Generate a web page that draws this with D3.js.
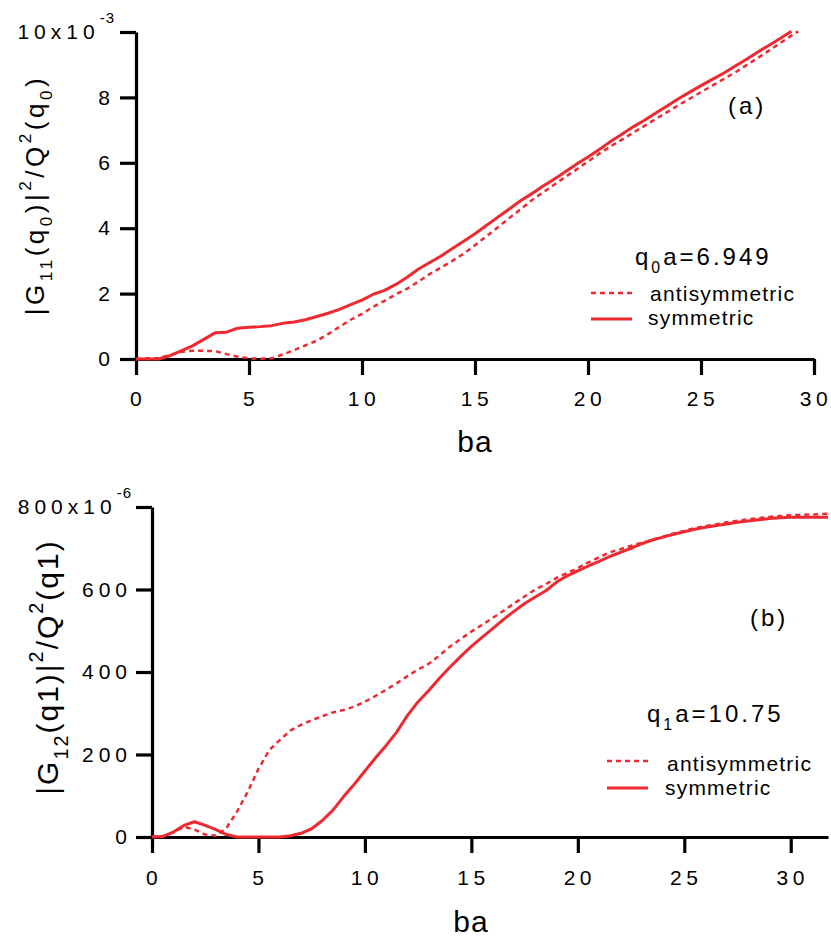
<!DOCTYPE html>
<html>
<head>
<meta charset="utf-8">
<script src="https://cdn.jsdelivr.net/npm/d3@7"></script>
<style>
	body{margin:0;background:#fff;}
	svg text{font-family:"Liberation Sans",Arial,Helvetica,sans-serif;fill:#000;}
</style>
</head>
<body>
<svg id="chart" width="831" height="938"></svg>
<script>
	// panel (a): |G11(q0)|^2/Q^2(q0), units of 1e-3
	const baTopSym = [0,0.5,1,1.5,2,2.5,3,3.5,4,4.5,5,5.5,6,6.5,7,7.5,8,8.5,9,9.5,10,10.5,11,11.5,12,12.5,13,13.5,14,14.5,15,15.5,16,16.5,17,17.5,18,18.5,19,19.5,20,20.5,21,21.5,22,22.5,23,23.5,24,24.5,25,25.5,26,26.5,27,27.5,28,28.5,29];
	const symTop = [0,0,0,0.1,0.25,0.4,0.6,0.8,0.82,0.94,0.97,0.99,1.02,1.09,1.13,1.2,1.3,1.4,1.52,1.66,1.8,1.98,2.1,2.28,2.5,2.75,2.95,3.15,3.38,3.6,3.83,4.08,4.33,4.58,4.83,5.05,5.28,5.5,5.73,5.96,6.18,6.41,6.65,6.87,7.1,7.3,7.52,7.74,7.96,8.16,8.36,8.55,8.74,8.95,9.16,9.38,9.59,9.8,10.02];
	const baTopAnti = [0,0.5,1,1.5,2,2.5,3,3.5,4,4.5,5,5.5,6,6.5,7,7.5,8,8.5,9,9.5,10,10.5,11,11.5,12,12.5,13,13.5,14,14.5,15,15.5,16,16.5,17,17.5,18,18.5,19,19.5,20,20.5,21,21.5,22,22.5,23,23.5,24,24.5,25,25.5,26,26.5,27,27.5,28,28.5,29,29.3];
	const antiTop = [0,0.02,0.03,0.12,0.22,0.25,0.25,0.24,0.15,0.07,0.02,0.01,0.02,0.14,0.27,0.42,0.56,0.76,0.98,1.2,1.38,1.6,1.78,1.98,2.15,2.37,2.6,2.8,3.0,3.22,3.48,3.75,4.02,4.3,4.57,4.85,5.09,5.33,5.57,5.8,6.04,6.28,6.5,6.71,6.92,7.13,7.34,7.55,7.76,7.96,8.16,8.36,8.56,8.76,8.98,9.2,9.43,9.66,9.89,10.02];
	const xTicksTop = [0,5,10,15,20,25,30];
	const yTicksTop = [0,2,4,6,8,10];

	// panel (b): |G12(q1)|^2/Q^2(q1), units of 1e-6
	const baBottom = [0,0.5,1,1.5,2,2.5,3,3.5,4,4.5,5,5.5,6,6.5,7,7.5,8,8.5,9,9.5,10,10.5,11,11.5,12,12.5,13,13.5,14,14.5,15,15.5,16,16.5,17,17.5,18,18.5,19,19.5,20,20.5,21,21.5,22,22.5,23,23.5,24,24.5,25,25.5,26,26.5,27,27.5,28,28.5,29,29.5,30,30.5,31,31.5,31.75];
	const antiBottom = [0,2,11,25,18,6,3,22,62,110,165,210,235,258,272,283,293,302,308,316,328,342,357,373,390,406,420,440,462,480,498,514,531,548,566,583,600,613,628,640,652,666,678,690,698,706,713,720,728,736,742,749,754,758,763,767,770,773,776,778,780,781,782,783,784];
	const symBottom = [0,1,12,28,37,28,18,6,0,0,0,0,0,3,9,20,40,65,98,128,160,192,222,255,295,328,355,385,412,438,462,484,505,527,547,566,582,597,618,633,645,657,668,680,690,700,711,720,727,734,740,746,751,755,759,763,766,769,772,774,775,775,775,775,775];
	const xTicksBottom = [0,5,10,15,20,25,30];
	const yTicksBottom = [0,200,400,600,800];

	const red = "#ee2a30";
	const svg = d3.select("#chart");

	function zip(xs, ys){
		return xs.map(function(v,i){ return [v, ys[i]]; });
	}

	function richText(sel, parts, fs){
		// parts: [text, 'sub'|'sup'|null]
		let off = 0;
		for(let p of parts){
			let target = 0, size = fs;
			if(p[1]=="sub"){ target = fs*0.32; size = fs*0.66; }
			if(p[1]=="sup"){ target = -fs*0.5; size = fs*0.66; }
			sel.append("tspan")
				.attr("dy", target-off)
				.style("font-size", size+"px")
				.text(p[0]);
			off = target;
		}
	}

	function drawPanel(p){
		const g = svg.append("g");
		const x = d3.scaleLinear().domain(p.xDomain).range(p.xRange);
		const y = d3.scaleLinear().domain(p.yDomain).range(p.yRange);

		const gx = g.append("g")
			.attr("transform","translate(0,"+y(0)+")")
			.call(d3.axisBottom(x).tickValues(p.xTicks).tickSize(16).tickSizeOuter(0).tickPadding(p.xPad));
		const gy = g.append("g")
			.attr("transform","translate("+x(0)+",0)")
			.call(d3.axisLeft(y).tickValues(p.yTicks).tickSize(16).tickSizeOuter(0).tickPadding(p.yPad));

		for(let ax of [gx,gy]){
			ax.select(".domain").attr("stroke","#000").attr("stroke-width",3.2);
			ax.selectAll(".tick line").attr("stroke","#000").attr("stroke-width",3.2);
			ax.selectAll(".tick text")
				.attr("font-family",null)
				.style("font-size","21px")
				.style("letter-spacing","5px");
		}
		gx.selectAll(".tick text").style("letter-spacing","4.5px").attr("dx",1.5);
		gy.selectAll(".tick text").attr("dx",5);

		// top y tick gets the exponent
		gy.selectAll(".tick text")
			.filter(function(d){ return d==p.yDomain[1]; })
			.text(null)
			.call(function(t){
				t.append("tspan").text(p.topLabel);
				t.append("tspan").attr("dy",-16).style("font-size","15px").style("letter-spacing","1px").text(p.exponent);
			});

		// x label
		g.append("text")
			.attr("x",p.baX).attr("y",p.baY)
			.attr("text-anchor","middle")
			.style("font-size","30px")
			.style("letter-spacing","1px")
			.text("ba");

		// y label
		const yl = g.append("text")
			.attr("transform","translate("+p.ylX+","+p.ylY+") rotate(-90)")
			.attr("text-anchor","middle")
			.style("font-size",p.ylSize+"px")
			.style("letter-spacing",p.ylSpacing+"px");
		richText(yl, p.ylParts, p.ylSize);

		const line = d3.line().x(function(d){ return x(d[0]); }).y(function(d){ return y(d[1]); });

		g.append("path")
			.datum(zip(p.antiX,p.anti))
			.attr("d",line)
			.attr("fill","none")
			.attr("stroke",red)
			.attr("stroke-width",2.5)
			.attr("stroke-dasharray","5,4");
		g.append("path")
			.datum(zip(p.symX,p.sym))
			.attr("d",line)
			.attr("fill","none")
			.attr("stroke",red)
			.attr("stroke-width",3)
			.attr("stroke-linejoin","round");

		// panel tag
		g.append("text")
			.attr("x",p.tagX).attr("y",p.tagY)
			.style("font-size","24px")
			.style("letter-spacing","3px")
			.text(p.tag);

		// legend
		const qt = g.append("text")
			.attr("x",p.legX).attr("y",p.legY)
			.style("font-size","24px")
			.style("letter-spacing","3px");
		richText(qt, p.legParts, 24);

		const items = [["antisymmetric","5,4",2.5,0],["symmetric",null,3,1]];
		for(let it of items){
			const ly = p.legLineY[it[3]];
			g.append("line")
				.attr("x1",p.legLineX[0]).attr("x2",p.legLineX[1])
				.attr("y1",ly).attr("y2",ly)
				.attr("stroke",red)
				.attr("stroke-width",it[2])
				.attr("stroke-dasharray",it[1]);
			g.append("text")
				.attr("x",p.legTextX[it[3]]).attr("y",p.legTextY[it[3]])
				.style("font-size","21px")
				.style("letter-spacing","1.2px")
				.text(it[0]);
		}
	}

	drawPanel({
		xDomain:[0,30], xRange:[136,814],
		yDomain:[0,10], yRange:[359,32],
		xTicks:xTicksTop, yTicks:yTicksTop, xPad:16, yPad:10,
		topLabel:"10x10", exponent:"-3",
		baX:475, baY:452,
		ylX:44, ylY:195, ylSize:26, ylSpacing:3.5,
		ylParts:[["|G",null],["11","sub"],["(q",null],["0","sub"],[")|",null],["2","sup"],["/Q",null],["2","sup"],["(q",null],["0","sub"],[")",null]],
		symX:baTopSym, sym:symTop, antiX:baTopAnti, anti:antiTop,
		tag:"(a)", tagX:728, tagY:114,
		legParts:[["q",null],["0","sub"],["a=6.949",null]], legX:635, legY:265,
		legLineX:[591,632], legLineY:[293,319],
		legTextX:[650,648], legTextY:[301,325]
	});

	drawPanel({
		xDomain:[0,31.75], xRange:[152,828],
		yDomain:[0,800], yRange:[837,507],
		xTicks:xTicksBottom, yTicks:yTicksBottom, xPad:17, yPad:9,
		topLabel:"800x10", exponent:"-6",
		baX:471, baY:932,
		ylX:58, ylY:667, ylSize:30, ylSpacing:2,
		ylParts:[["|G",null],["12","sub"],["(q1)|",null],["2","sup"],["/Q",null],["2","sup"],["(q1)",null]],
		symX:baBottom, sym:symBottom, antiX:baBottom, anti:antiBottom,
		tag:"(b)", tagX:750, tagY:626,
		legParts:[["q",null],["1","sub"],["a=10.75",null]], legX:647, legY:722,
		legLineX:[607,648], legLineY:[761,788],
		legTextX:[667,665], legTextY:[771,795]
	});
</script>
</body>
</html>
